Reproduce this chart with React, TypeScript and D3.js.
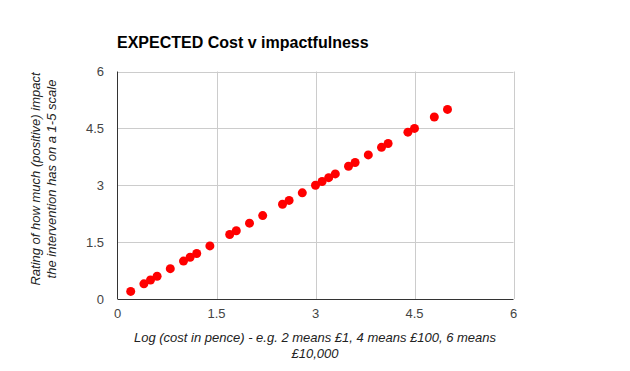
import React from "react";
import * as d3 from "d3";

const costLog: number[] = [0.2, 0.4, 0.5, 0.6, 0.8, 1.0, 1.1, 1.2, 1.4, 1.7, 1.8, 2.0, 2.2, 2.5, 2.6, 2.8, 3.0, 3.1, 3.2, 3.3, 3.5, 3.6, 3.8, 4.0, 4.1, 4.4, 4.5, 4.8, 5.0];
const impact: number[] = [0.2, 0.4, 0.5, 0.6, 0.8, 1.0, 1.1, 1.2, 1.4, 1.7, 1.8, 2.0, 2.2, 2.5, 2.6, 2.8, 3.0, 3.1, 3.2, 3.3, 3.5, 3.6, 3.8, 4.0, 4.1, 4.4, 4.5, 4.8, 5.0];
const xTicks: number[] = [0, 1.5, 3, 4.5, 6];
const yTicks: number[] = [0, 1.5, 3, 4.5, 6];
const title = "EXPECTED Cost v impactfulness";
const xTitle1 = "Log (cost in pence) - e.g. 2 means £1, 4 means £100, 6 means";
const xTitle2 = "£10,000";
const yTitle1 = "Rating of how much (positive) impact";
const yTitle2 = "the intervention has on a 1-5 scale";

const W = 630;
const H = 371;
const left = 117.5;
const right = 513.5;
const top = 71.5;
const bottom = 299;

export default function App() {
  const x = d3.scaleLinear().domain([0, 6]).range([left, right]);
  const y = d3.scaleLinear().domain([0, 6]).range([bottom, top]);
  const font = "Arial, 'Liberation Sans', sans-serif";
  const pts = costLog.map((c, i) => ({ c, v: impact[i] }));
  return (
    <svg width={W} height={H} style={{ position: "absolute", left: 0, top: 0, background: "#fff" }} fontFamily={font}>
      <rect x={0} y={0} width={W} height={H} fill="#fff" />
      <text x={117} y={48} fontSize={16} fontWeight="bold" fill="#000">{title}</text>
      {xTicks.filter(t => t !== 0).map(t => (
        <line key={"gx" + t} x1={Math.round(x(t)) + 0.5} x2={Math.round(x(t)) + 0.5} y1={top} y2={bottom} stroke="#cccccc" strokeWidth={1} />
      ))}
      {yTicks.filter(t => t !== 0).map(t => (
        <line key={"gy" + t} x1={left} x2={right} y1={Math.round(y(t)) + 0.5} y2={Math.round(y(t)) + 0.5} stroke="#cccccc" strokeWidth={1} />
      ))}
      <line x1={left} x2={left} y1={top} y2={bottom} stroke="#333333" strokeWidth={1} />
      <line x1={left} x2={right} y1={bottom + 0.5} y2={bottom + 0.5} stroke="#333333" strokeWidth={1} />
      {pts.map((p, i) => (
        <circle key={i} cx={x(p.c)} cy={y(p.v)} r={4.5} fill="#ff0000" />
      ))}
      {xTicks.map(t => (
        <text key={"tx" + t} x={x(t)} y={318} fontSize={13} fill="#444444" textAnchor="middle">{String(t)}</text>
      ))}
      {yTicks.map(t => (
        <text key={"ty" + t} x={104} y={y(t) + 4.5} fontSize={13} fill="#444444" textAnchor="end">{String(t)}</text>
      ))}
      <text x={315} y={342} fontSize={13} fontStyle="italic" fill="#222222" textAnchor="middle">{xTitle1}</text>
      <text x={315} y={358} fontSize={13} fontStyle="italic" fill="#222222" textAnchor="middle">{xTitle2}</text>
      <g transform={`translate(40, 179) rotate(-90)`}>
        <text x={0} y={0} fontSize={13} fontStyle="italic" fill="#222222" textAnchor="middle">{yTitle1}</text>
        <text x={0} y={16} fontSize={13} fontStyle="italic" fill="#222222" textAnchor="middle">{yTitle2}</text>
      </g>
    </svg>
  );
}
